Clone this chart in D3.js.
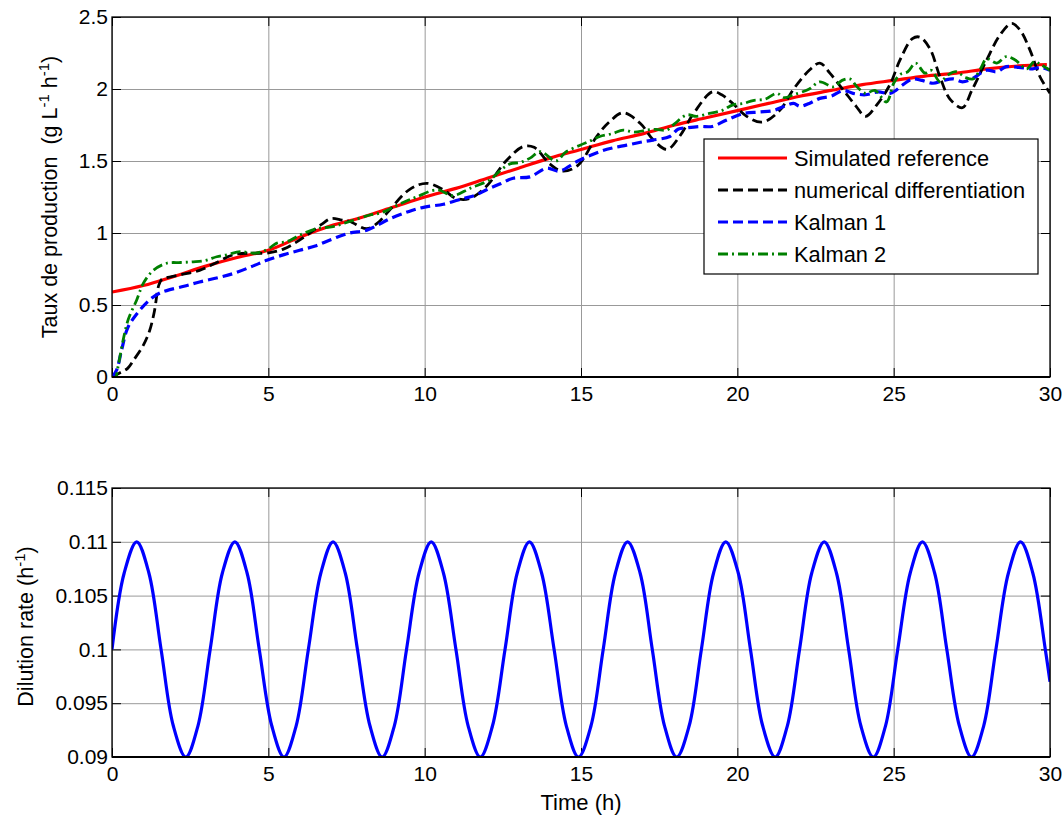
<!DOCTYPE html>
<html><head><meta charset="utf-8">
<script src="https://cdn.jsdelivr.net/npm/d3@7"></script>
<style>
body{margin:0;background:#fff}
svg{display:block}
text{font-family:"Liberation Sans",Arial,Helvetica,sans-serif;fill:#000}
</style>
</head><body>
<svg id="chart" width="1063" height="818"></svg>
<script>
// ---------- data ----------
const xTicks = [0,5,10,15,20,25,30];
const yTicksTop = [0,0.5,1,1.5,2,2.5];
const yTickLabelsTop = ["0","0.5","1","1.5","2","2.5"];
const yTicksBottom = [0.09,0.095,0.1,0.105,0.11,0.115];
const yTickLabelsBottom = ["0.09","0.095","0.1","0.105","0.11","0.115"];
const seriesNames = ["Simulated reference","numerical differentiation","Kalman 1","Kalman 2"];

const refTime = [0,1,2,3,4,5,6,7,8,9,10,11,12,13,14,15,16,17,18,19,20,21,22,23,24,25,26,27,28,29,29.9];
const refValues = [0.59,0.635,0.70,0.77,0.83,0.88,0.97,1.05,1.11,1.18,1.25,1.31,1.38,1.45,1.52,1.58,1.64,1.69,1.75,1.80,1.85,1.90,1.95,1.99,2.03,2.06,2.09,2.11,2.14,2.16,2.17];

const numDiff = [[0,0],[0.26,0.03],[0.5,0.06],[0.7,0.12],[1.0,0.22],[1.2,0.32],[1.35,0.45],[1.5,0.64],[1.6,0.68],[1.75,0.69],[2.2,0.71],[2.8,0.74],[3.3,0.79],[3.9,0.85],[4.5,0.86],[4.95,0.86],[5.5,0.89],[6.2,0.98],[6.7,1.06],[7.0,1.10],[7.35,1.09],[7.6,1.08],[8.15,1.03],[8.5,1.07],[8.8,1.14],[9.5,1.30],[10.06,1.345],[10.6,1.30],[11.0,1.24],[11.45,1.24],[12.0,1.33],[12.6,1.50],[13.15,1.60],[13.5,1.595],[14.0,1.48],[14.4,1.43],[14.9,1.47],[15.5,1.67],[15.9,1.77],[16.35,1.835],[16.9,1.76],[17.3,1.65],[17.75,1.58],[18.15,1.67],[18.6,1.83],[19.2,1.98],[19.5,1.96],[19.85,1.90],[20.3,1.81],[20.8,1.77],[21.35,1.85],[21.8,2.00],[22.3,2.13],[22.64,2.18],[22.96,2.11],[23.4,1.99],[23.8,1.88],[24.1,1.81],[24.46,1.89],[24.88,2.03],[25.2,2.20],[25.6,2.35],[25.84,2.36],[26.16,2.28],[26.48,2.085],[26.8,1.93],[27.2,1.87],[27.5,1.99],[27.97,2.20],[28.4,2.375],[28.77,2.455],[29.04,2.41],[29.36,2.27],[29.68,2.085],[30,1.97]];

const kalman1 = [[0,0],[0.15,0.05],[0.3,0.18],[0.5,0.34],[0.8,0.44],[1.2,0.535],[1.5,0.58],[1.75,0.60],[2.3,0.63],[2.8,0.66],[3.4,0.69],[3.9,0.72],[4.5,0.77],[4.95,0.81],[5.5,0.85],[6.0,0.88],[6.5,0.91],[7.07,0.96],[7.6,1.00],[8.15,1.02],[8.9,1.10],[9.5,1.15],[10.0,1.18],[10.6,1.20],[11.24,1.24],[11.6,1.26],[11.98,1.30],[12.4,1.34],[12.83,1.38],[13.37,1.39],[13.9,1.45],[14.3,1.43],[14.9,1.50],[15.6,1.565],[16.0,1.59],[16.46,1.61],[16.9,1.63],[17.3,1.645],[17.84,1.67],[18.1,1.72],[18.38,1.73],[18.8,1.74],[19.2,1.74],[19.66,1.785],[20.2,1.83],[20.7,1.84],[21.15,1.85],[21.5,1.88],[21.8,1.90],[22.0,1.88],[22.3,1.90],[22.64,1.935],[23.0,1.95],[23.4,1.99],[23.7,1.97],[24.1,1.96],[24.5,1.98],[24.9,1.97],[25.3,2.03],[25.6,2.07],[25.9,2.06],[26.26,2.04],[26.6,2.06],[26.9,2.07],[27.2,2.05],[27.5,2.07],[27.97,2.13],[28.3,2.12],[28.6,2.155],[29.0,2.15],[29.45,2.14],[29.7,2.15],[30,2.13]];

const kalman2 = [[0,0],[0.1,-0.01],[0.2,0.08],[0.36,0.26],[0.52,0.40],[0.79,0.535],[1.0,0.65],[1.32,0.74],[1.75,0.79],[2.2,0.795],[2.6,0.80],[3.0,0.81],[3.35,0.835],[3.7,0.85],[4.1,0.87],[4.6,0.86],[5.0,0.89],[5.27,0.93],[5.6,0.94],[6.0,0.985],[6.55,1.03],[7.07,1.045],[7.6,1.08],[8.25,1.125],[8.6,1.14],[9.0,1.18],[9.4,1.22],[9.74,1.25],[10.4,1.30],[10.9,1.26],[11.45,1.31],[12.09,1.37],[12.4,1.43],[12.73,1.48],[13.05,1.49],[13.37,1.52],[13.7,1.565],[14.2,1.50],[14.5,1.56],[14.97,1.61],[15.3,1.64],[15.6,1.67],[16.0,1.69],[16.35,1.715],[16.7,1.70],[17.1,1.715],[17.4,1.72],[17.74,1.715],[18.0,1.76],[18.38,1.82],[18.7,1.81],[19.1,1.83],[19.5,1.85],[19.86,1.89],[20.2,1.90],[20.5,1.92],[20.9,1.93],[21.26,1.97],[21.5,1.94],[21.8,1.96],[22.3,2.00],[22.64,2.05],[23.07,2.015],[23.35,2.06],[23.6,2.07],[23.85,2.01],[24.1,1.97],[24.4,1.99],[24.77,1.91],[25.0,2.04],[25.2,2.10],[25.45,2.12],[25.7,2.18],[26.0,2.11],[26.2,2.13],[26.48,2.05],[26.75,2.10],[27.0,2.12],[27.3,2.08],[27.54,2.07],[27.8,2.15],[27.97,2.21],[28.3,2.18],[28.6,2.225],[28.9,2.20],[29.25,2.14],[29.5,2.19],[29.7,2.17],[30,2.13]];

const dilutionTime = [0,0.39,0.79,1.18,1.57,1.96,2.36,2.75,3.14,3.53,3.93,4.32,4.71,5.11,5.50,5.89,6.28,6.68,7.07,7.46,7.85,8.25,8.64,9.03,9.42,9.82,10.21,10.60,11.00,11.39,11.78,12.17,12.57,12.96,13.35,13.74,14.14,14.53,14.92,15.32,15.71,16.10,16.49,16.89,17.28,17.67,18.06,18.46,18.85,19.24,19.63,20.03,20.42,20.81,21.21,21.60,21.99,22.38,22.78,23.17,23.56,23.95,24.35,24.74,25.13,25.53,25.92,26.31,26.70,27.10,27.49,27.88,28.27,28.67,29.06,29.45,29.85,30];
const dilutionRate = [
0.1,0.1071,0.11,0.1071,0.1,0.0929,0.09,0.0929,
0.1,0.1071,0.11,0.1071,0.1,0.0929,0.09,0.0929,
0.1,0.1071,0.11,0.1071,0.1,0.0929,0.09,0.0929,
0.1,0.1071,0.11,0.1071,0.1,0.0929,0.09,0.0929,
0.1,0.1071,0.11,0.1071,0.1,0.0929,0.09,0.0929,
0.1,0.1071,0.11,0.1071,0.1,0.0929,0.09,0.0929,
0.1,0.1071,0.11,0.1071,0.1,0.0929,0.09,0.0929,
0.1,0.1071,0.11,0.1071,0.1,0.0929,0.09,0.0929,
0.1,0.1071,0.11,0.1071,0.1,0.0929,0.09,0.0929,
0.1,0.1071,0.11,0.1071,0.1,0.097];

// ---------- layout ----------
const svg = d3.select("#chart");
const L = 112, R = 1050;
const T1 = 17, B1 = 377, T2 = 488, B2 = 757;
const FONT = 21;

const x = d3.scaleLinear().domain([0,30]).range([L,R]);
const y1 = d3.scaleLinear().domain([0,2.5]).range([B1,T1]);
const y2 = d3.scaleLinear().domain([0.09,0.115]).range([B2,T2]);

const styles = [
  {color:"#ff0000", width:3.2, dash:null},
  {color:"#000000", width:2.8, dash:"10,5"},
  {color:"#0000ff", width:3.2, dash:"10,5"},
  {color:"#008000", width:2.8, dash:"10,4,2,4"}
];

function panel(y, top, bottom, yTicks, yLabels, id) {
  const g = svg.append("g");
  g.append("rect").attr("x",L).attr("y",top).attr("width",R-L).attr("height",bottom-top).attr("fill","#fff");
  g.append("g").attr("transform",`translate(0,${bottom})`)
    .call(d3.axisBottom(x).tickValues(xTicks).tickSize(-(bottom-top)).tickFormat(""))
    .call(s=>{s.select(".domain").remove(); s.selectAll("line").attr("stroke","#999").attr("stroke-width",1);});
  g.append("g").attr("transform",`translate(${L},0)`)
    .call(d3.axisLeft(y).tickValues(yTicks).tickSize(-(R-L)).tickFormat(""))
    .call(s=>{s.select(".domain").remove(); s.selectAll("line").attr("stroke","#999").attr("stroke-width",1);});
  const tk = 9;
  g.append("g").attr("transform",`translate(0,${bottom})`)
    .call(d3.axisTop(x).tickValues(xTicks).tickSize(tk).tickFormat(""))
    .call(s=>{s.select(".domain").remove(); s.selectAll("line").attr("stroke","#000");});
  g.append("g").attr("transform",`translate(0,${top})`)
    .call(d3.axisBottom(x).tickValues(xTicks).tickSize(tk).tickFormat(""))
    .call(s=>{s.select(".domain").remove(); s.selectAll("line").attr("stroke","#000");});
  g.append("g").attr("transform",`translate(${L},0)`)
    .call(d3.axisRight(y).tickValues(yTicks).tickSize(tk).tickFormat(""))
    .call(s=>{s.select(".domain").remove(); s.selectAll("line").attr("stroke","#000");});
  g.append("g").attr("transform",`translate(${R},0)`)
    .call(d3.axisLeft(y).tickValues(yTicks).tickSize(tk).tickFormat(""))
    .call(s=>{s.select(".domain").remove(); s.selectAll("line").attr("stroke","#000");});
  g.append("g").attr("transform",`translate(0,${bottom})`)
    .call(d3.axisBottom(x).tickValues(xTicks).tickSize(0).tickPadding(9).tickFormat(d3.format("d")))
    .call(s=>{s.select(".domain").remove(); s.selectAll("text").attr("font-size",FONT).attr("font-family",null);});
  g.append("g").attr("transform",`translate(${L},0)`)
    .call(d3.axisLeft(y).tickValues(yTicks).tickSize(0).tickPadding(4).tickFormat((d,i)=>yLabels[i]))
    .call(s=>{s.select(".domain").remove(); s.selectAll("text").attr("font-size",FONT).attr("font-family",null);});
  svg.append("clipPath").attr("id",id).append("rect")
    .attr("x",L).attr("y",top).attr("width",R-L).attr("height",bottom-top);
  return g;
}

function frame(top, bottom){
  svg.append("rect").attr("x",L).attr("y",top).attr("width",R-L).attr("height",bottom-top)
    .attr("fill","none").attr("stroke","#000").attr("stroke-width",1.3);
  svg.append("line").attr("x1",L).attr("x2",R).attr("y1",bottom).attr("y2",bottom)
    .attr("stroke","#000").attr("stroke-width",2);
}

// ---------- top panel ----------
panel(y1, T1, B1, yTicksTop, yTickLabelsTop, "clipTop");
const lineTop = d3.line().x(d=>x(d[0])).y(d=>y1(d[1])).curve(d3.curveCatmullRom.alpha(0.5));
const topData = [
  refTime.map((t,i)=>[t, refValues[i]]),
  numDiff, kalman1, kalman2
];
const gl = svg.append("g").attr("clip-path","url(#clipTop)");
topData.forEach((d,i)=>{
  gl.append("path").datum(d).attr("d",lineTop).attr("fill","none")
    .attr("stroke",styles[i].color).attr("stroke-width",styles[i].width)
    .attr("stroke-dasharray",styles[i].dash).attr("stroke-linejoin","round");
});
frame(T1, B1);

const yl1 = svg.append("text").attr("transform",`translate(57,${(T1+B1)/2}) rotate(-90)`)
  .attr("text-anchor","middle").attr("font-size",21.5);
yl1.append("tspan").text("Taux de production\u00a0\u00a0(g L");
yl1.append("tspan").attr("font-size",15).attr("dy",-8).text("-1");
yl1.append("tspan").attr("dy",8).text(" h");
yl1.append("tspan").attr("font-size",15).attr("dy",-8).text("-1");
yl1.append("tspan").attr("dy",8).text(")");

// legend
const lg = svg.append("g");
const lgX = 704, lgY = 139, lgW = 334, lgH = 135;
lg.append("rect").attr("x",lgX).attr("y",lgY).attr("width",lgW).attr("height",lgH)
  .attr("fill","#fff").attr("stroke","#000").attr("stroke-width",1.2);
const rowY = [158,190,222,254];
seriesNames.forEach((name,i)=>{
  lg.append("line").attr("x1",718).attr("x2",787).attr("y1",rowY[i]).attr("y2",rowY[i])
    .attr("stroke",styles[i].color).attr("stroke-width",styles[i].width)
    .attr("stroke-dasharray",styles[i].dash);
  lg.append("text").attr("x",794).attr("y",rowY[i]).attr("dy","0.36em")
    .attr("font-size",21.8).text(name);
});

// ---------- bottom panel ----------
panel(y2, T2, B2, yTicksBottom, yTickLabelsBottom, "clipBot");
const lineBot = d3.line().x(d=>x(d[0])).y(d=>y2(d[1])).curve(d3.curveCatmullRom.alpha(0.5));
svg.append("g").attr("clip-path","url(#clipBot)").append("path")
  .datum(dilutionTime.map((t,i)=>[t, dilutionRate[i]]))
  .attr("d",lineBot).attr("fill","none").attr("stroke","#0000ff").attr("stroke-width",3.2)
  .attr("stroke-linejoin","round");
frame(T2, B2);

const yl2 = svg.append("text").attr("transform",`translate(33,${(T2+B2)/2 + 4}) rotate(-90)`)
  .attr("text-anchor","middle").attr("font-size",21.5);
yl2.append("tspan").text("Dilution rate (h");
yl2.append("tspan").attr("font-size",15).attr("dy",-8).text("-1");
yl2.append("tspan").attr("dy",8).text(")");

svg.append("text").attr("x",(L+R)/2).attr("y",810).attr("text-anchor","middle")
  .attr("font-size",22).text("Time (h)");
</script>
</body></html>
